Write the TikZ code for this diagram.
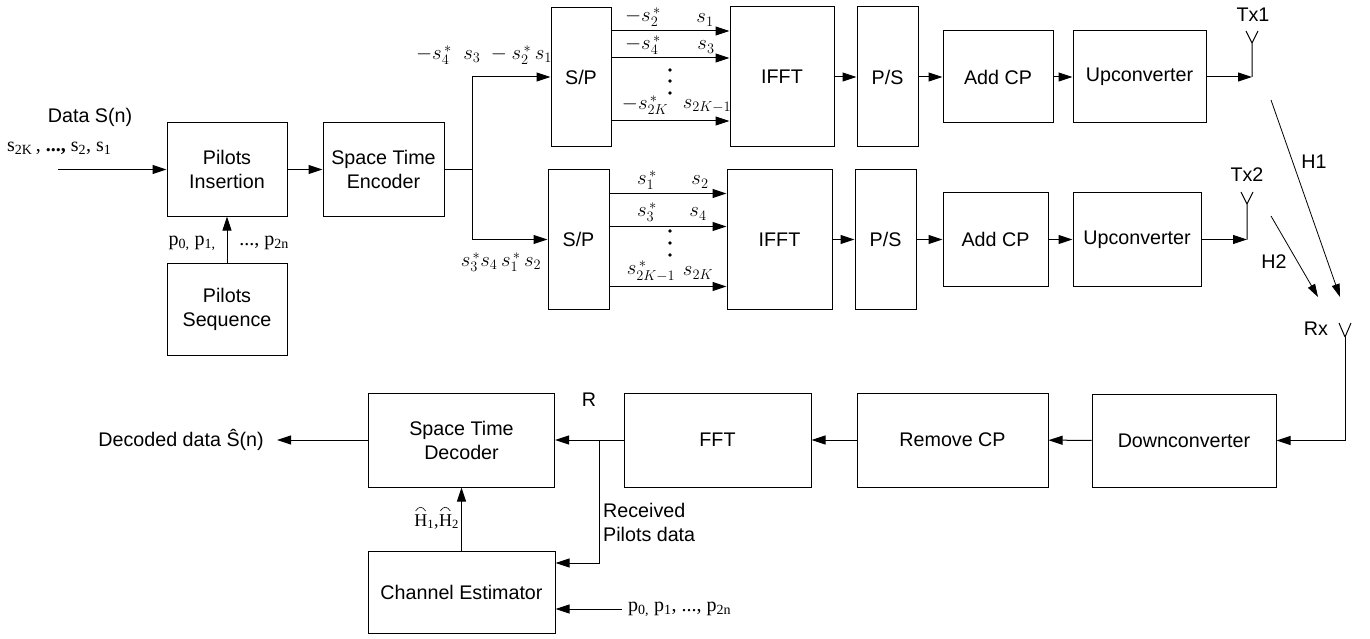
\documentclass[tikz,border=0pt]{standalone}
\usepackage{fontspec}
\setmainfont{Liberation Sans}
\newfontfamily\tnr{Liberation Serif}
\usetikzlibrary{arrows.meta}
\begin{document}
\begin{tikzpicture}[x=1pt,y=-1pt,
  blk/.style={draw, line width=1pt, align=center, inner sep=0pt, font=\fontsize{19.7}{24}\selectfont},
  arr/.style={-{Triangle[length=14pt,width=9pt]}, line width=1pt},
  ln/.style={line width=1pt},
  lab/.style={font=\fontsize{19.7}{24}\selectfont, inner sep=0pt},
  mth/.style={font=\fontsize{19.5}{22}\selectfont, inner sep=0pt},
  ser/.style={font=\fontsize{20}{24}\selectfont\tnr, inner sep=0pt}]
\useasboundingbox (0,0) rectangle (1370,639);

% transmitter front end
\node[blk, minimum width=120pt, minimum height=93pt] (PI) at (227,169.5) {Pilots\\Insertion};
\node[blk, minimum width=120pt, minimum height=92pt] (PS) at (227,309) {Pilots\\Sequence};
\node[blk, minimum width=121pt, minimum height=93pt] (STE) at (383.5,169.5) {Space Time\\Encoder};

% branch 1
\node[blk, minimum width=60pt, minimum height=139pt] (SP1) at (581,77) {S/P};
\node[blk, minimum width=104pt, minimum height=140pt] (IFFT1) at (782,77) {IFFT};
\node[blk, minimum width=61pt, minimum height=140pt] (PS1) at (887.5,77) {P/S};
\node[blk, minimum width=110pt, minimum height=92pt] (ACP1) at (998,77) {Add CP};
\node[blk, minimum width=133pt, minimum height=92pt] (UP1) at (1139.5,77) {Upconverter};

% branch 2
\node[blk, minimum width=61pt, minimum height=140pt] (SP2) at (578.5,239.5) {S/P};
\node[blk, minimum width=105pt, minimum height=139pt] (IFFT2) at (779.5,239.5) {IFFT};
\node[blk, minimum width=61pt, minimum height=139pt] (PS2) at (885.5,239.5) {P/S};
\node[blk, minimum width=105pt, minimum height=93pt] (ACP2) at (995.5,239.5) {Add CP};
\node[blk, minimum width=128pt, minimum height=93pt] (UP2) at (1137,239.5) {Upconverter};

% receiver
\node[blk, minimum width=184pt, minimum height=93pt] (DC) at (1184,440.5) {Downconverter};
\node[blk, minimum width=191pt, minimum height=94pt] (RCP) at (952.5,440) {Remove CP};
\node[blk, minimum width=187pt, minimum height=94pt] (FFT) at (717.5,440) {FFT};
\node[blk, minimum width=186pt, minimum height=94pt] (STD) at (461.5,440) {Space Time\\Decoder};
\node[blk, minimum width=187pt, minimum height=82pt] (CE) at (461.5,592) {Channel Estimator};

% coordinates
\coordinate (in) at (58,169.5);
\coordinate (split) at (472,169.5);
\coordinate (ant1) at (1252,77);
\coordinate (ant2) at (1247,239.5);
\coordinate (h1s) at (1271,100);
\coordinate (h1e) at (1340,297);
\coordinate (h2s) at (1271,216);
\coordinate (h2e) at (1318,297);
\coordinate (rx) at (1345,337);
\coordinate (br) at (599,440);
\coordinate (pin) at (622,609);
\coordinate (out) at (277,440);

% transmitter connectors
\draw[arr] (in) -- (PI.west);
\draw[arr] (PS.north) -- (PI.south);
\draw[arr] (PI.east) -- (STE.west);
\draw[ln] (STE.east) -- (split);
\draw[arr] (split) |- (SP1.west);
\draw[arr] (split) |- (SP2.west);

\draw[arr] ([yshift=46pt]SP1.east) -- ([yshift=46pt]IFFT1.west);
\draw[arr] ([yshift=19pt]SP1.east) -- ([yshift=19pt]IFFT1.west);
\draw[arr] ([yshift=-44pt]SP1.east) -- ([yshift=-44pt]IFFT1.west);
\draw[arr] ([yshift=46pt]SP2.east) -- ([yshift=46pt]IFFT2.west);
\draw[arr] ([yshift=13pt]SP2.east) -- ([yshift=13pt]IFFT2.west);
\draw[arr] ([yshift=-47pt]SP2.east) -- ([yshift=-47pt]IFFT2.west);

\draw[arr] (IFFT1) -- (PS1);
\draw[arr] (PS1) -- (ACP1);
\draw[arr] (ACP1) -- (UP1);
\draw[arr] (UP1.east) -- (ant1);
\draw[arr] (IFFT2) -- (PS2);
\draw[arr] (PS2) -- (ACP2);
\draw[arr] (ACP2) -- (UP2);
\draw[arr] (UP2.east) -- (ant2);

% antennas
\draw[ln] (ant1) -- ++(0,-34) -- ++(-6,-12) ++(6,12) -- ++(6,-12);
\draw[ln] (ant2) -- ++(0,-35.5) -- ++(-6,-12) ++(6,12) -- ++(6,-12);
\draw[ln] (rx) -- ++(-6,-14) ++(6,14) -- ++(6,-14);
\draw[line width=0.8pt, -{Triangle[length=13pt,width=8pt]}] (h1s) -- (h1e);
\draw[line width=0.8pt, -{Triangle[length=13pt,width=8pt]}] (h2s) -- (h2e);
\draw[arr] (rx) |- (DC.east);

% receiver connectors
\draw[arr] (DC) -- (RCP);
\draw[arr] (RCP) -- (FFT);
\draw[arr] (FFT.west) -- (STD.east);
\draw[arr] (br) |- ([yshift=29pt]CE.east);
\draw[arr] (pin) -- ([yshift=-17pt]CE.east);
\draw[arr] (CE.north) -- (STD.south);
\draw[arr] (STD.west) -- (out);

% labels
\node[lab] (ldata) at (90,117) {Data S(n)};
\node[ser, anchor=west] (lseq) at (7,148) {s\textsubscript{2K}\,, \textbf{...,} s\textsubscript{2}, s\textsubscript{1}};
\node[ser] (lp1) at (192,243) {p\textsubscript{0,} p\textsubscript{1,}};
\node[ser] (lp2) at (264,243) {..., p\textsubscript{2n}};
\node[mth] (ltop) at (484,55) {$-s_4^{\,*}\;\; s_3\; -s_2^{\,*}\, s_1$};
\node[mth] (lbot) at (501,262) {$s_3^{\,*} s_4\, s_1^{\,*}\, s_2$};

\node[mth] (a1) at (643,17) {$-s_2^{\,*}$};
\node[mth] (b1) at (705,20) {$s_1$};
\node[mth] (a2) at (643,45) {$-s_4^{\,*}$};
\node[mth] (b2) at (706,47) {$s_3$};
\node[mth] (a3) at (645,105) {$-s_{2K}^{\,*}$};
\node[mth] (b3) at (707,106) {$s_{2K-1}$};
\foreach \yy in {70,81,93} \fill (670,\yy) circle (1.8pt);

\node[mth] (c1) at (647,180) {$s_1^{\,*}$};
\node[mth] (d1) at (700,182) {$s_2$};
\node[mth] (c2) at (647,212) {$s_3^{\,*}$};
\node[mth] (d2) at (698,214) {$s_4$};
\node[mth] (c3) at (651,271) {$s_{2K-1}^{\,*}$};
\node[mth] (d3) at (698,273) {$s_{2K}$};
\foreach \yy in {231,243,255} \fill (670,\yy) circle (1.8pt);

\node[lab] (ltx1) at (1253,15) {Tx1};
\node[lab] (ltx2) at (1247,175) {Tx2};
\node[lab] (lh1) at (1314,162) {H1};
\node[lab] (lh2) at (1274,262) {H2};
\node[lab] (lrx) at (1316,329) {Rx};

\node[lab] (lr) at (589,400) {R};
\node[lab, align=left, anchor=west] (lrec) at (603,522) {Received\\Pilots data};
\node[ser, anchor=west] (lpp) at (628,609) {p\textsubscript{0,} p\textsubscript{1}, ..., p\textsubscript{2n}};

% estimated channel label with drawn hats
\node[ser, font=\fontsize{18}{20}\selectfont\tnr, anchor=base east] (hh2) at (459,526) {H\textsubscript{2}};
\node[ser, font=\fontsize{18}{20}\selectfont\tnr, anchor=base east] (hh1) at (hh2.base west) {H\textsubscript{1},};
\coordinate (hat1) at ([xshift=6.5pt,yshift=3pt]hh1.north west);
\coordinate (hat2) at ([xshift=6.5pt,yshift=3pt]hh2.north west);
\draw[line width=0.6pt] ([xshift=-5pt]hat1) .. controls ([xshift=-2pt,yshift=5pt]hat1) and ([xshift=2pt,yshift=5pt]hat1) .. ([xshift=5pt]hat1);
\draw[line width=0.6pt] ([xshift=-5pt]hat2) .. controls ([xshift=-2pt,yshift=5pt]hat2) and ([xshift=2pt,yshift=5pt]hat2) .. ([xshift=5pt]hat2);

\node[lab, anchor=east] (ldec) at (264,440) {Decoded data Ŝ(n)};
\end{tikzpicture}
\end{document}
